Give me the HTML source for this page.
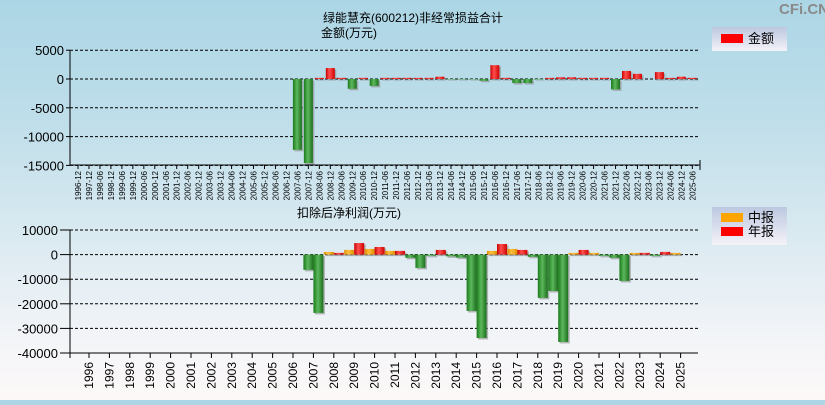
<!DOCTYPE html>
<html><head><meta charset="utf-8">
<style>
html,body{margin:0;padding:0}
body{width:825px;height:400px;overflow:hidden;background:linear-gradient(#acd6e6 0%,#bfdeea 30%,#dbeaf1 60%,#f3f5f8 85%,#fdf8f8 100%);font-family:"Liberation Sans","Noto Sans CJK SC",sans-serif}
svg text{font-family:"Liberation Sans","Noto Sans CJK SC",sans-serif}
</style></head><body>
<svg id="c" width="825" height="400" xmlns="http://www.w3.org/2000/svg">
<defs>
<linearGradient id="gr" x1="0" x2="1"><stop offset="0" stop-color="#c80000"/><stop offset="0.4" stop-color="#ff5050"/><stop offset="1" stop-color="#d00000"/></linearGradient>
<linearGradient id="gg" x1="0" x2="1"><stop offset="0" stop-color="#1a7a1a"/><stop offset="0.45" stop-color="#5cb85c"/><stop offset="1" stop-color="#1c6e1c"/></linearGradient>
<linearGradient id="go" x1="0" x2="1"><stop offset="0" stop-color="#e08a00"/><stop offset="0.4" stop-color="#ffc040"/><stop offset="1" stop-color="#e09000"/></linearGradient>
<linearGradient id="lg" x1="0" y1="0" x2="0" y2="1"><stop offset="0" stop-color="#bcc8e0"/><stop offset="1" stop-color="#f4f2f8"/></linearGradient>
</defs>
<text x="779" y="14" font-size="15" font-weight="bold" fill="#8a8a8a">CFi.CN</text>
<text x="323" y="22" font-size="12">绿能慧充(600212)非经常损益合计</text>
<text x="321" y="37" font-size="12">金额(万元)</text>
<text x="297" y="217" font-size="12">扣除后净利润(万元)</text>
<g>
<rect x="712" y="27" width="75" height="24" fill="url(#lg)"/>
<rect x="721" y="34" width="22" height="9" fill="#ff0000"/>
<text x="748" y="43" font-size="13">金额</text>
</g>
<g>
<rect x="712" y="207" width="75" height="38" fill="url(#lg)"/>
<rect x="721" y="213" width="22" height="9" fill="#ffa500"/>
<text x="748" y="222" font-size="13">中报</text>
<rect x="721" y="227" width="22" height="9" fill="#ff0000"/>
<text x="748" y="236" font-size="13">年报</text>
</g>
<g id="top"></g><g id="bot"></g>
</svg>
<script>
const topCats=["1996-12","1997-12","1998-06","1998-12","1999-06","1999-12","2000-06","2000-12","2001-06","2001-12","2002-06","2002-12","2003-06","2003-12","2004-06","2004-12","2005-06","2005-12","2006-06","2006-12","2007-06","2007-12","2008-06","2008-12","2009-06","2009-12","2010-06","2010-12","2011-06","2011-12","2012-06","2012-12","2013-06","2013-12","2014-06","2014-12","2015-06","2015-12","2016-06","2016-12","2017-06","2017-12","2018-06","2018-12","2019-06","2019-12","2020-06","2020-12","2021-06","2021-12","2022-06","2022-12","2023-06","2023-12","2024-06","2024-12","2025-06"];
const topValues=[0,0,0,0,0,0,0,0,0,0,0,0,0,0,0,0,0,0,0,0,-12300,-14600,200,1900,200,-1700,200,-1200,200,200,200,200,200,400,-80,-80,-80,-300,2400,200,-700,-700,-100,200,300,300,200,200,200,-1800,1400,900,0,1200,200,400,200];
const topTicks=[5000,0,-5000,-10000,-15000];
const botYears=["1996","1997","1998","1999","2000","2001","2002","2003","2004","2005","2006","2007","2008","2009","2010","2011","2012","2013","2014","2015","2016","2017","2018","2019","2020","2021","2022","2023","2024","2025"];
const midValues=[null,null,null,null,null,null,null,null,null,null,null,-6200,1100,1900,2300,1500,-1300,-500,-700,-22900,1500,2300,-900,-14800,700,700,-1300,700,-500,700];
const annualValues=[null,null,null,null,null,null,null,null,null,null,null,-23700,700,4700,3100,1500,-5400,1900,-1200,-33900,4300,1900,-17600,-35500,1900,-500,-10700,700,1100,null];
const botTicks=[10000,0,-10000,-20000,-30000,-40000];

const NS="http://www.w3.org/2000/svg";
function mk(p,t,a){const e=document.createElementNS(NS,t);for(const k in a)e.setAttribute(k,a[k]);p.appendChild(e);return e;}
const T=document.getElementById('top');
const tx=i=>78+10.97*i, ty=v=>79-v*28.8/5000;
topTicks.forEach(v=>{
  const y=ty(v);
  const l=mk(T,'line',{x1:70,x2:700,y1:y,y2:y,stroke:'#000','stroke-dasharray':'3,2','stroke-width':1});
  
  
  const t=mk(T,'text',{x:64,y:y+5,'font-size':13,'text-anchor':'end'});t.textContent=v;
  
  
  mk(T,'line',{x1:66,x2:70,y1:y,y2:y,stroke:'#000'});
});
topValues.forEach((v,i)=>{
  if(!v)return;
  const y1=ty(Math.max(v,0)),h=Math.abs(ty(v)-ty(0));
  mk(T,'rect',{x:tx(i)-4.5+1.5,y:y1+1.5,width:9,height:h,fill:'#888',opacity:0.6});
  const r=mk(T,'rect',{x:tx(i)-4.5,y:y1,width:9,height:h,fill:v>0?'url(#gr)':'url(#gg)'});
  
  
});
mk(T,'line',{x1:70,x2:70,y1:50,y2:165,stroke:'#000'});
mk(T,'line',{x1:70,x2:700,y1:165,y2:165,stroke:'#000'});
mk(T,'line',{x1:700,x2:700,y1:160,y2:170,stroke:'#000'});
topCats.forEach((c,i)=>{
  const x=tx(i);
  mk(T,'line',{x1:x,x2:x,y1:165,y2:169,stroke:'#000'});
  const t=mk(T,'text',{x:0,y:0,'font-size':8,'text-anchor':'end',transform:`translate(${x+3},171) rotate(-90)`});t.textContent=c;
  
  
});
const B=document.getElementById('bot');
const bx=i=>89+20.4*i, by=v=>254.6-v*24.6/10000;
botTicks.forEach(v=>{
  const y=by(v);
  const l=mk(B,'line',{x1:70,x2:700,y1:y,y2:y,stroke:'#000','stroke-dasharray':'3,2','stroke-width':1});
  
  
  const t=mk(B,'text',{x:58,y:y+5,'font-size':13,'text-anchor':'end'});t.textContent=v;
  
  
  mk(B,'line',{x1:60,x2:70,y1:y,y2:y,stroke:'#000'});
});
function bar(v,x,pos,name){
  const y1=by(Math.max(v,0)),h=Math.max(Math.abs(by(v)-by(0)),1);
  mk(B,'rect',{x:x+1.5,y:y1+1.5,width:10,height:h,fill:'#888',opacity:0.6});
  const r=mk(B,'rect',{x:x,y:y1,width:10,height:h,fill:v<0?'url(#gg)':pos});
  
  
}
botYears.forEach((yr,i)=>{
  const x=bx(i);
  if(midValues[i]!=null)bar(midValues[i],x-10,'url(#go)','mid-bar-'+yr);
  if(annualValues[i]!=null)bar(annualValues[i],x,'url(#gr)','annual-bar-'+yr);
});
mk(B,'line',{x1:70,x2:70,y1:230,y2:354,stroke:'#000'});
mk(B,'line',{x1:70,x2:697,y1:353,y2:353,stroke:'#000'});
mk(B,'line',{x1:70,x2:70,y1:353,y2:358,stroke:'#000'});
botYears.forEach((yr,i)=>{
  const x=bx(i);
  mk(B,'line',{x1:x,x2:x,y1:353,y2:358,stroke:'#000'});
  const t=mk(B,'text',{x:0,y:0,'font-size':12,'text-anchor':'end',transform:`translate(${x+4},362) rotate(-90)`});t.textContent=yr;
  
  
});
</script>
</body></html>
